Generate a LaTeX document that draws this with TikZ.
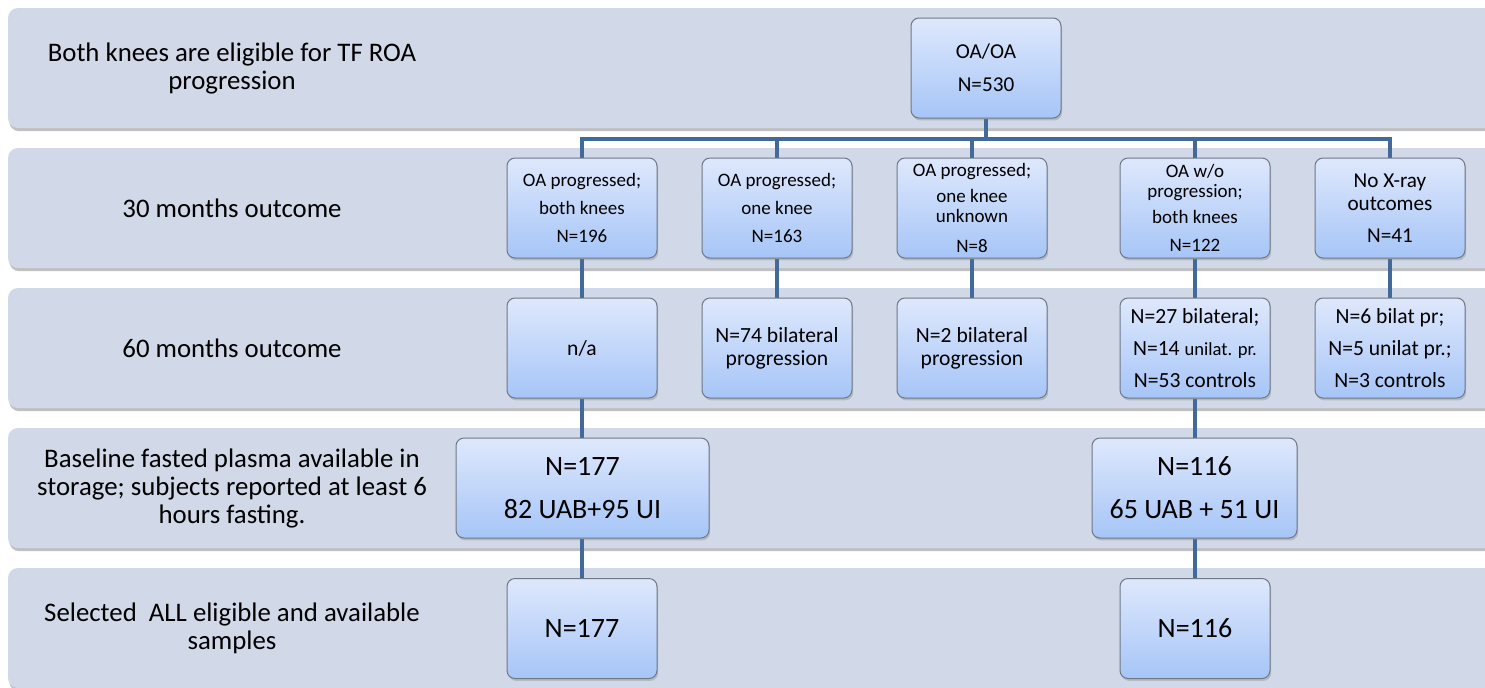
\documentclass[tikz,border=0pt]{standalone}
\usepackage{fontspec}
\setmainfont{Carlito}
\usetikzlibrary{shadows}
\definecolor{bandc}{HTML}{D1D8E8}
\definecolor{linec}{HTML}{41699A}
\definecolor{boxtop}{HTML}{DEE8FC}
\definecolor{boxbot}{HTML}{A6C5F7}
\definecolor{boxedge}{HTML}{6E7887}
\pgfdeclarelayer{bands}
\pgfdeclarelayer{conns}
\pgfsetlayers{bands,conns,main}
\begin{document}
\begin{tikzpicture}[x=0.5pt,y=-0.5pt,
  band/.style={fill=bandc, rounded corners=5pt,
    drop shadow={opacity=0.45, shadow xshift=0.6pt, shadow yshift=-1.6pt, fill=black!55}},
  box/.style={draw=boxedge, line width=0.5pt, rounded corners=4pt,
    top color=boxtop, bottom color=boxbot, align=center, inner sep=0pt,
    minimum width=75pt, minimum height=50pt,
    drop shadow={opacity=0.35, shadow xshift=0.6pt, shadow yshift=-1.2pt}},
  lab/.style={align=center, font=\fontsize{13.4}{14}\selectfont},
  fA/.style={font=\fontsize{9.5}{10}\selectfont},
  fB/.style={font=\fontsize{10.6}{11.5}\selectfont},
  fC/.style={font=\fontsize{10.8}{11.5}\selectfont},
  fD/.style={font=\fontsize{14}{15}\selectfont},
  conn/.style={draw=linec, line width=2pt}]
\useasboundingbox (0,0) rectangle (1485,687);
% bands
\begin{pgfonlayer}{bands}
\foreach \t in {8,148,288,428,568}
  \fill[band] (8,\t) rectangle (1540,\t+120);
\end{pgfonlayer}
% left labels
\node[lab] (l1) at (232,68) {Both knees are eligible for TF ROA\\progression};
\node[lab] (l2) at (232,208) {30 months outcome};
\node[lab] (l3) at (232,348) {60 months outcome};
\node[lab] (l4) at (232,488) {Baseline fasted plasma available in\\storage; subjects reported at least 6\\hours fasting.};
\node[lab] (l5) at (232,628) {Selected~ ALL eligible and available\\samples};
% top
\node[box, fB] (top) at (986,68) {OA/OA\\[5pt]N=530};
% row 2
\node[box, fA] (a1) at (582,208) {OA progressed;\\[4pt]both knees\\[4pt]N=196};
\node[box, fA] (a2) at (777,208) {OA progressed;\\[4pt]one knee\\[4pt]N=163};
\node[box, fA] (a3) at (972,208) {OA progressed;\\[2.8pt]one knee\\unknown\\[4.8pt]N=8};
\node[box, fA] (a4) at (1195,208) {OA w/o\\progression;\\[2.8pt]both knees\\[4.2pt]N=122};
\node[box, fB] (a5) at (1390,208) {No X-ray\\outcomes\\[4.5pt]N=41};
% row 3
\node[box, fC] (b1) at (582,348) {n/a};
\node[box, fC] (b2) at (777,348) {N=74 bilateral\\progression};
\node[box, fC] (b3) at (972,348) {N=2 bilateral\\progression};
\node[box, fC] (b4) at (1195,348) {N=27 bilateral;\\[4.5pt]N=14 {\fontsize{9.3}{10}\selectfont unilat. pr.}\\[4.5pt]N=53 controls};
\node[box, fC] (b5) at (1390,348) {N=6 bilat pr;\\[4.5pt]N=5 unilat pr.;\\[4.5pt]N=3 controls};
% row 4
\node[box, fD, minimum width=126.5pt] (c1) at (582.5,488) {N=177\\[6.5pt]82 UAB+95 UI};
\node[box, fD, minimum width=102.5pt] (c2) at (1194.5,488) {N=116\\[6.5pt]65 UAB + 51 UI};
% row 5
\node[box, fD] (d1) at (582,628.5) {N=177};
\node[box, fD] (d2) at (1195,628.5) {N=116};
% connectors
\begin{pgfonlayer}{conns}
\coordinate (bus) at (0,139);
\draw[conn] (top.south) -- (top.south |- bus);
\draw[conn] (a1.north) -- (a1.north |- bus) -- (a5.north |- bus) -- (a5.north);
\draw[conn] (a2.north) -- (a2.north |- bus);
\draw[conn] (a3.north) -- (a3.north |- bus);
\draw[conn] (a4.north) -- (a4.north |- bus);
\draw[conn] (a1) -- (b1);
\draw[conn] (a2) -- (b2);
\draw[conn] (a3) -- (b3);
\draw[conn] (a4) -- (b4);
\draw[conn] (a5) -- (b5);
\draw[conn] (b1) -- (c1.north -| b1);
\draw[conn] (c1.south -| d1) -- (d1);
\draw[conn] (b4) -- (c2.north -| b4);
\draw[conn] (c2.south -| d2) -- (d2);
\end{pgfonlayer}
\end{tikzpicture}
\end{document}
